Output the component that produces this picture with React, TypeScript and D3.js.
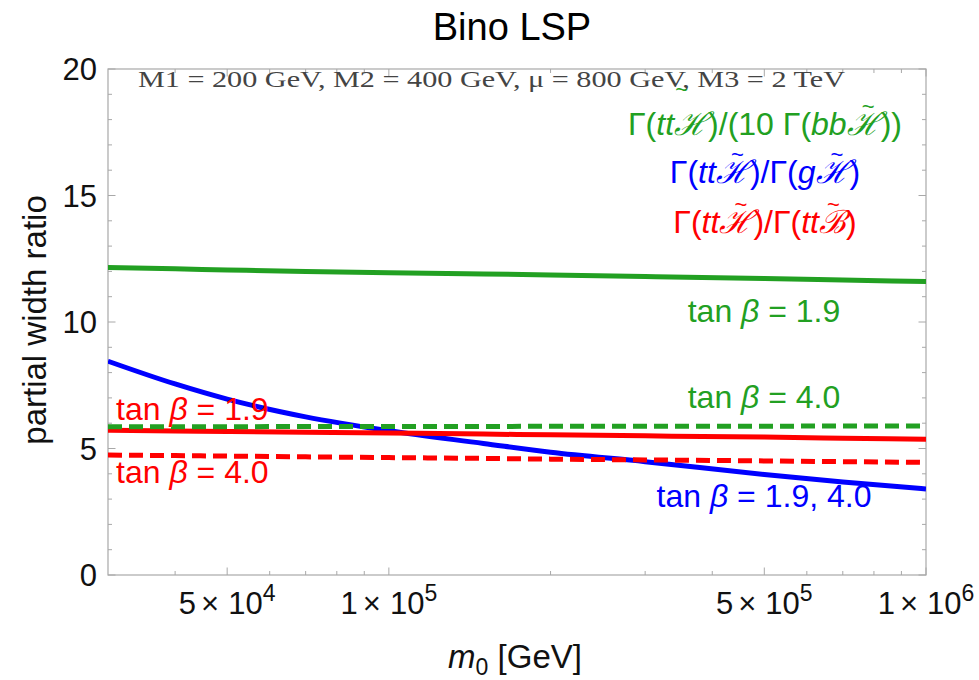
import React from "react";
import * as d3 from "d3";

// m0 grid [GeV] on which the partial-width ratios are tabulated
const m0Values = [3e4, 4e4, 5e4, 7e4, 1e5, 1.5e5, 2e5, 3e5, 5e5, 7e5, 1e6];

// Γ(tt H~)/(10 Γ(bb H~))
const greenTan19 = [12.15, 12.1, 12.06, 12.0, 11.95, 11.9, 11.86, 11.8, 11.72, 11.66, 11.6];
const greenTan40 = [5.86, 5.86, 5.86, 5.87, 5.87, 5.87, 5.88, 5.88, 5.88, 5.89, 5.89];
// Γ(tt H~)/Γ(tt B~)
const redTan19 = [5.72, 5.69, 5.67, 5.64, 5.61, 5.57, 5.54, 5.5, 5.45, 5.41, 5.37];
const redTan40 = [4.74, 4.72, 4.7, 4.67, 4.64, 4.61, 4.58, 4.55, 4.51, 4.48, 4.45];
// Γ(tt H~)/Γ(g H~), same for both tan β
const blueBoth = [8.45, 7.55, 6.95, 6.25, 5.7, 5.2, 4.85, 4.48, 3.97, 3.68, 3.4];

const xMajorTicks = [5e4, 1e5, 5e5, 1e6];
const xMajorLabels: [string, string][] = [
  ["5", "4"],
  ["1", "5"],
  ["5", "5"],
  ["1", "6"],
];
const xMinorTicks = [4e4, 6e4, 7e4, 8e4, 9e4, 2e5, 3e5, 4e5, 6e5, 7e5, 8e5, 9e5];
const yMajorTicks = [0, 5, 10, 15, 20];
const yMinorTicks = d3.range(0, 21).filter((v) => v % 5 !== 0);

const GREEN = "#22a022";
const BLUE = "#0000ff";
const RED = "#ff0000";
const FRAME = "#a8a8a8";
const SANS = "'Liberation Sans', Arial, Helvetica, sans-serif";

const W = 979;
const H = 680;
const L = 108, R = 926, T = 69, B = 575;

const italic = { fontStyle: "italic" as const };

// a script letter with a tilde over it, followed by the text that comes after it
function Tilded({
  ch,
  after,
  lift = 21,
  shift = 0,
}: {
  ch: string;
  after: string;
  lift?: number;
  shift?: number;
}) {
  const h = 33; // approximate advance of the script glyph
  const tw = 12.8; // advance of the small "~"
  return (
    <>
      <tspan style={italic}>{ch}</tspan>
      <tspan dx={-(h / 2 + tw / 2) + 4 + shift} dy={-lift} fontSize={22}>
        ~
      </tspan>
      <tspan dx={h / 2 - tw / 2 - 4 - shift} dy={lift}>
        {after}
      </tspan>
    </>
  );
}

export default function App() {
  const x = d3.scaleLog().domain([3e4, 1e6]).range([L, R]);
  const y = d3.scaleLinear().domain([0, 20]).range([B, T]);

  const line = (vals: number[]) =>
    d3
      .line<number>()
      .x((_, i) => x(m0Values[i]))
      .y((v) => y(v))
      .curve(d3.curveMonotoneX)(vals) || "";

  const series = [
    { vals: greenTan19, color: GREEN, dash: undefined },
    { vals: blueBoth, color: BLUE, dash: undefined },
    { vals: redTan19, color: RED, dash: undefined },
    { vals: greenTan40, color: GREEN, dash: "14 7" },
    { vals: redTan40, color: RED, dash: "14 7" },
  ];

  const major = 7.5;
  const minor = 4;

  return (
    <svg
      width={W}
      height={H}
      style={{ position: "absolute", left: 0, top: 0, background: "#fff" }}
      fontFamily={SANS}
    >
      <defs>
        <clipPath id="plotArea">
          <rect x={L} y={T} width={R - L} height={B - T} />
        </clipPath>
      </defs>

      {/* title */}
      <text x={512} y={40} textAnchor="middle" fontSize={38} fill="#000">
        Bino LSP
      </text>

      {/* frame */}
      <rect x={L} y={T} width={R - L} height={B - T} fill="none" stroke={FRAME} strokeWidth={1.2} />

      {/* x ticks, bottom and top */}
      {xMajorTicks.map((t) => (
        <g key={"xM" + t}>
          <line x1={x(t)} x2={x(t)} y1={B} y2={B - major} stroke={FRAME} />
          <line x1={x(t)} x2={x(t)} y1={T} y2={T + major} stroke={FRAME} />
        </g>
      ))}
      {xMinorTicks.map((t) => (
        <g key={"xm" + t}>
          <line x1={x(t)} x2={x(t)} y1={B} y2={B - minor} stroke={FRAME} />
          <line x1={x(t)} x2={x(t)} y1={T} y2={T + minor} stroke={FRAME} />
        </g>
      ))}
      {xMajorTicks.map((t, i) => (
        <text key={"xl" + t} x={x(t)} y={614} textAnchor="middle" fontSize={31} fill="#111">
          {xMajorLabels[i][0]}
          <tspan dx={5}>×</tspan>
          <tspan dx={9}>10</tspan>
          <tspan dy={-13} fontSize={23}>
            {xMajorLabels[i][1]}
          </tspan>
        </text>
      ))}

      {/* y ticks, left and right */}
      {yMajorTicks.map((t) => (
        <g key={"yM" + t}>
          <line x1={L} x2={L + major} y1={y(t)} y2={y(t)} stroke={FRAME} />
          <line x1={R} x2={R - major} y1={y(t)} y2={y(t)} stroke={FRAME} />
          <text x={97} y={y(t) + 11} textAnchor="end" fontSize={31} fill="#111">
            {t}
          </text>
        </g>
      ))}
      {yMinorTicks.map((t) => (
        <g key={"ym" + t}>
          <line x1={L} x2={L + minor} y1={y(t)} y2={y(t)} stroke={FRAME} />
          <line x1={R} x2={R - minor} y1={y(t)} y2={y(t)} stroke={FRAME} />
        </g>
      ))}

      {/* axis titles */}
      <text x={515} y={668} textAnchor="middle" fontSize={33} fill="#111">
        <tspan style={italic}>m</tspan>
        <tspan dy={7} fontSize={23}>0</tspan>
        <tspan dy={-7}> [GeV]</tspan>
      </text>
      <text
        transform={`translate(46, ${(T + B) / 2 - 2}) rotate(-90)`}
        textAnchor="middle"
        fontSize={33}
        fill="#111"
      >
        partial width ratio
      </text>

      {/* curves */}
      <g clipPath="url(#plotArea)">
        {series.map((s, i) => (
          <path
            key={i}
            d={line(s.vals)}
            fill="none"
            stroke={s.color}
            strokeWidth={5}
            strokeDasharray={s.dash}
          />
        ))}
      </g>

      {/* parameter line */}
      <text
        x={138}
        y={87}
        fontSize={24}
        fill="#444"
        fontFamily="'Liberation Serif', 'DejaVu Serif', serif"
        textLength={707}
        lengthAdjust="spacingAndGlyphs"
      >
        M1 = 200 GeV, M2 = 400 GeV, μ = 800 GeV, M3 = 2 TeV
      </text>

      {/* ratio legend */}
      <text x={765} y={135} textAnchor="middle" fontSize={32} fill={GREEN}>
        Γ(<tspan style={italic}>tt</tspan>
        <Tilded ch="ℋ" after=")/(10 Γ(" lift={38} shift={-14} />
        <tspan style={italic}>bb</tspan>
        <Tilded ch="ℋ" after="))" />
      </text>
      <text x={765} y={183} textAnchor="middle" fontSize={32} fill={BLUE}>
        Γ(<tspan style={italic}>tt</tspan>
        <Tilded ch="ℋ" after=")/Γ(" />
        <tspan style={italic}>g</tspan>
        <Tilded ch="ℋ" after=")" />
      </text>
      <text x={765} y={233} textAnchor="middle" fontSize={32} fill={RED}>
        Γ(<tspan style={italic}>tt</tspan>
        <Tilded ch="ℋ" after=")/Γ(" />
        <tspan style={italic}>tt</tspan>
        <Tilded ch="ℬ" after=")" />
      </text>

      {/* curve labels */}
      <text x={764} y={322} textAnchor="middle" fontSize={32} fill={GREEN}>
        tan <tspan style={italic}>β</tspan> = 1.9
      </text>
      <text x={764} y={408} textAnchor="middle" fontSize={32} fill={GREEN}>
        tan <tspan style={italic}>β</tspan> = 4.0
      </text>
      <text x={764} y={507} textAnchor="middle" fontSize={32} fill={BLUE}>
        tan <tspan style={italic}>β</tspan> = 1.9, 4.0
      </text>
      <text x={116} y={420} fontSize={32} fill={RED}>
        tan <tspan style={italic}>β</tspan> = 1.9
      </text>
      <text x={116} y={483} fontSize={32} fill={RED}>
        tan <tspan style={italic}>β</tspan> = 4.0
      </text>
    </svg>
  );
}
